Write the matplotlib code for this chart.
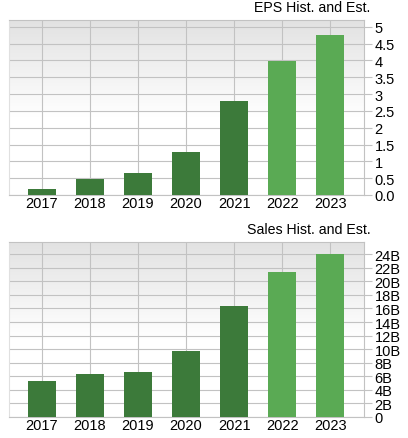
import matplotlib
matplotlib.use("Agg")
import matplotlib.pyplot as plt
import numpy as np
from matplotlib.colors import LinearSegmentedColormap

years = ["2017", "2018", "2019", "2020", "2021", "2022", "2023"]
eps_values = [0.18, 0.48, 0.65, 1.29, 2.79, 3.99, 4.76]
sales_values = [5.27, 6.41, 6.70, 9.70, 16.35, 21.40, 24.00]  # billions
is_estimate = [False, False, False, False, False, True, True]

eps_ticks = [0, 0.5, 1, 1.5, 2, 2.5, 3, 3.5, 4, 4.5, 5]
eps_tick_labels = ["0.0", "0.5", "1", "1.5", "2", "2.5", "3", "3.5", "4", "4.5", "5"]
sales_ticks = list(range(0, 25, 2))
sales_tick_labels = ["0"] + [f"{t}B" for t in sales_ticks[1:]]

titles = ["EPS Hist. and Est.", "Sales Hist. and Est."]

plt.rcParams["font.family"] = ["Liberation Sans", "DejaVu Sans"]

W, H = 408, 439
fig = plt.figure(figsize=(W / 100, H / 100), dpi=100)

dark = "#3c7a3a"
light = "#5aaa54"
grid_c = "#c2c2c2"

cmap = LinearSegmentedColormap.from_list("bg", [(0, "#ffffff"), (0.45, "#ffffff"), (1, "#e2e2e2")])


def px_axes(left, top, right, bottom):
    return fig.add_axes([left / W, 1 - bottom / H, (right - left) / W, (bottom - top) / H])


def draw(ax, values, ymax, ticks, labels, title):
    x = np.arange(len(years))
    xlim = (-0.68, 6.7)
    ax.set_xlim(*xlim)
    ax.set_ylim(0, ymax)
    grad = np.linspace(0, 1, 256).reshape(-1, 1)
    ax.imshow(grad, extent=[xlim[0], xlim[1], 0, ymax], origin="lower", aspect="auto",
              cmap=cmap, zorder=0)
    colors = [light if e else dark for e in is_estimate]
    ax.bar(x, values, width=0.58, color=colors, zorder=3)
    ax.set_xticks(x)
    ax.set_xticklabels(years, fontsize=10.5)
    ax.set_yticks(ticks)
    ax.set_yticklabels(labels, fontsize=10.5)
    ax.yaxis.tick_right()
    ax.tick_params(axis="y", length=6, color=grid_c, pad=1.5, width=0.8)
    ax.tick_params(axis="x", length=0, pad=0.5)
    ax.grid(True, color=grid_c, linewidth=0.8, zorder=1)
    ax.set_axisbelow(True)
    for s in ["left", "top", "right", "bottom"]:
        ax.spines[s].set_color(grid_c)
        ax.spines[s].set_linewidth(0.8)
    ax.spines["left"].set_color("#e0e0e0")
    ax.text(1.018, 1.035, title, transform=ax.transAxes, ha="right", va="bottom", fontsize=10.2)


ax1 = px_axes(9, 21, 364, 196)
draw(ax1, eps_values, 5.2, eps_ticks, eps_tick_labels, titles[0])

ax2 = px_axes(9, 243, 364, 418)
draw(ax2, sales_values, 25.8, sales_ticks, sales_tick_labels, titles[1])

fig.savefig("out.png", dpi=100)
